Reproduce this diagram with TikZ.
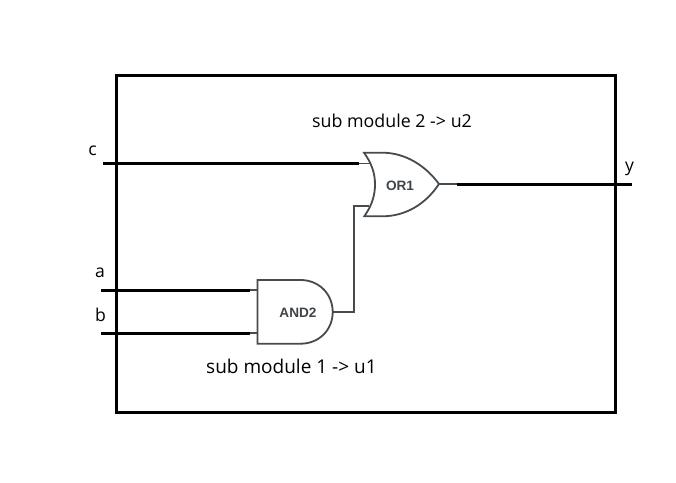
\documentclass[tikz,border=0pt]{standalone}
\usepackage{fontspec}
\setmainfont{Open Sans}
\newfontfamily\gatefont{Liberation Sans}
\definecolor{gateline}{HTML}{454B4F}
\definecolor{gatetext}{HTML}{3F4448}
\tikzset{
  x=1pt,y=-1pt,
  modulebox/.style={draw=black,line width=3pt},
  bus/.style={draw=black,line width=3pt},
  gatebody/.style={draw=gateline,line width=1.8pt,line join=miter,fill=white},
  pinwire/.style={draw=gateline,line width=1.8pt},
  gatelabel/.style={font=\gatefont\fontsize{13.6}{15}\selectfont\bfseries,text=gatetext,inner sep=0pt},
  caption/.style={font=\fontsize{17.8}{20}\selectfont,text=black,inner sep=0pt},
  bigcaption/.style={font=\fontsize{19}{21}\selectfont,text=black,inner sep=0pt},
  signal/.style={font=\fontsize{17.6}{20}\selectfont,text=black,inner sep=0pt},
}
\begin{document}
\begin{tikzpicture}
\useasboundingbox (0,0) rectangle (676,482);
\draw[modulebox] (116,75) rectangle (615,412);
% named pins
\coordinate (cstart) at (103,163.5);
\coordinate (cjoin) at (359,163.5);
\coordinate (orA) at (370,163.5);
\coordinate (orB) at (369,205.7);
\coordinate (orY) at (439,184);
\coordinate (yjoin) at (457,184);
\coordinate (yend) at (632,184);
\coordinate (astart) at (101,290);
\coordinate (ajoin) at (250,290);
\coordinate (andA) at (258,290);
\coordinate (bstart) at (101,333);
\coordinate (bjoin) at (250,333);
\coordinate (andB) at (258,333);
\coordinate (andY) at (332.7,312);
\coordinate (bend) at (353.7,312);
\coordinate (bendtop) at (353.7,205.7);
% wires
\draw[pinwire] (cjoin) -- (orA);
\draw[pinwire] (andY) -- (bend) -- (bendtop) -- (orB);
\draw[pinwire] (orY) -- (yjoin);
\draw[pinwire] (ajoin) -- (andA);
\draw[pinwire] (bjoin) -- (andB);
% gates
\draw[gatebody] (364,152.7) .. controls (371.5,163) and (375,173) .. (375,184.5)
  .. controls (375,196) and (371.5,206) .. (364.3,216.3)
  -- (383,216.3) .. controls (405,216) and (425,205) .. (439,184)
  .. controls (425,165) and (405,153) .. (383,152.7) -- cycle;
\draw[gatebody] (257.5,280) -- (300.5,280)
  .. controls (319,280) and (332.7,294) .. (332.7,312)
  .. controls (332.7,330) and (319,343.7) .. (300.5,343.7)
  -- (257.5,343.7) -- cycle;
% thick wires
\draw[bus] (cstart) -- (cjoin);
\draw[bus] (yjoin) -- (yend);
\draw[bus] (astart) -- (ajoin);
\draw[bus] (bstart) -- (bjoin);
% labels
\node[gatelabel] (orlabel) at (400,186) {OR1};
\node[gatelabel] (andlabel) at (298,313) {AND2};
\node[caption,anchor=base west] (cap2) at (312,127) {sub module 2 -> u2};
\node[bigcaption,anchor=base west] (cap1) at (206,373) {sub module 1 -> u1};
\node[signal,anchor=base] (lc) at (92.5,155) {c};
\node[signal,anchor=base] (la) at (100,277) {a};
\node[signal,anchor=base] (lb) at (100.5,321) {b};
\node[signal,anchor=base] (ly) at (629.5,171) {y};
\end{tikzpicture}
\end{document}
